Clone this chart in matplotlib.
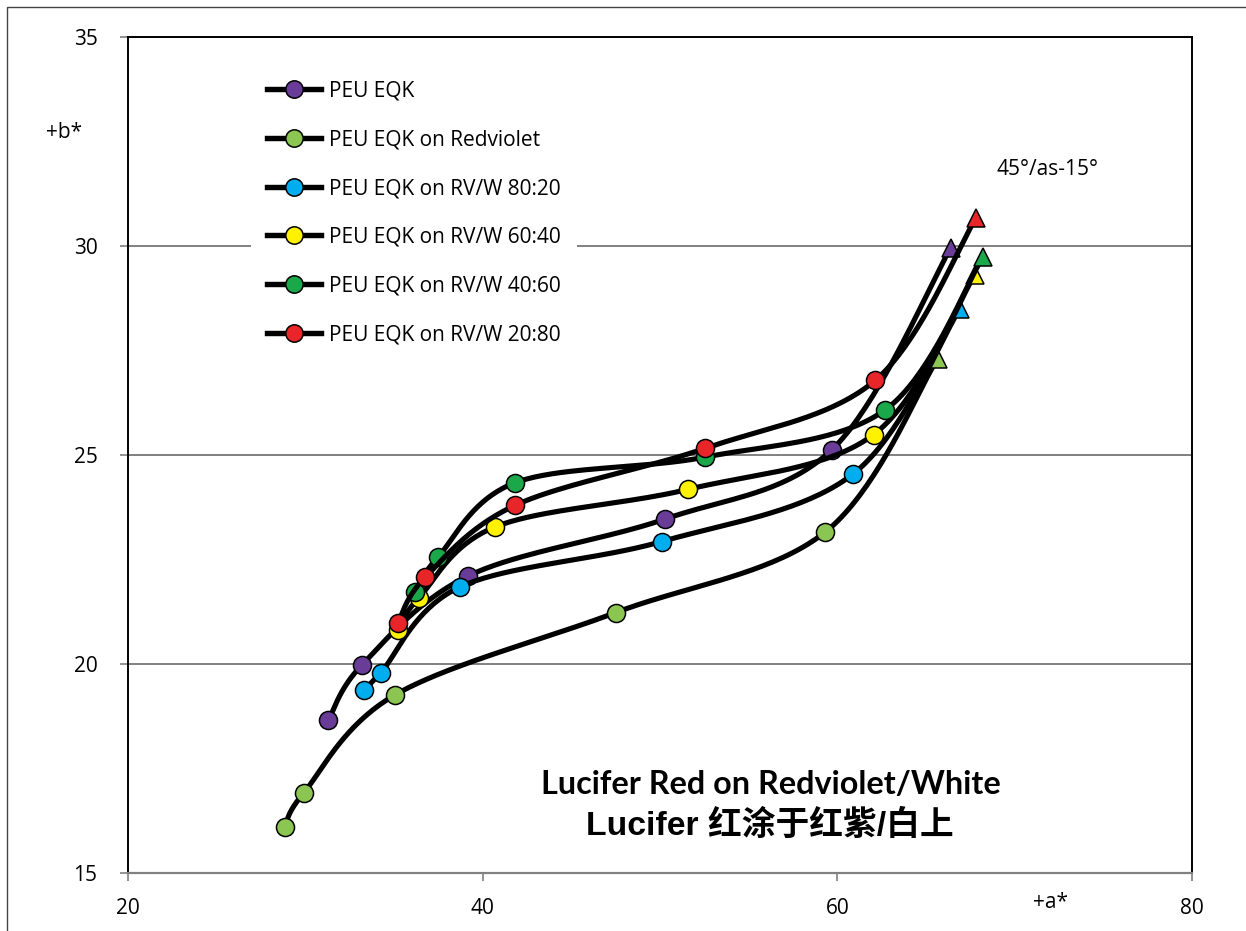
import numpy as np
import matplotlib
matplotlib.use("Agg")
import matplotlib.pyplot as plt
from matplotlib.lines import Line2D
from matplotlib.patches import Rectangle

# ---- data: CIELAB a*/b* measurements per substrate ----
series_names = [
    "PEU EQK",
    "PEU EQK on Redviolet",
    "PEU EQK on RV/W 80:20",
    "PEU EQK on RV/W 60:40",
    "PEU EQK on RV/W 40:60",
    "PEU EQK on RV/W 20:80",
]
series_colors = ["#683c97", "#8cc652", "#00aeef", "#fff200", "#1ba84a", "#e8262a"]

a_peu = [31.3, 33.2, 39.2, 50.3, 59.7, 66.4]
b_peu = [18.66, 19.98, 22.11, 23.47, 25.13, 29.96]

a_rv = [28.85, 29.9, 35.05, 47.5, 59.3, 65.65]
b_rv = [16.11, 16.91, 19.26, 21.23, 23.15, 27.30]

a_8020 = [33.3, 34.25, 38.7, 50.1, 60.9, 66.9]
b_8020 = [19.38, 19.79, 21.84, 22.93, 24.55, 28.49]

a_6040 = [35.2, 36.4, 40.7, 51.6, 62.05, 67.75]
b_6040 = [20.81, 21.58, 23.28, 24.18, 25.49, 29.31]

a_4060 = [36.2, 37.5, 41.85, 52.55, 62.7, 68.2]
b_4060 = [21.72, 22.57, 24.34, 24.95, 26.08, 29.73]

a_2080 = [35.2, 36.75, 41.85, 52.55, 62.15, 67.8]
b_2080 = [20.97, 22.07, 23.80, 25.16, 26.79, 30.66]

a_values = [a_peu, a_rv, a_8020, a_6040, a_4060, a_2080]
b_values = [b_peu, b_rv, b_8020, b_6040, b_4060, b_2080]

x_ticks = [20, 40, 60, 80]
y_ticks = [15, 20, 25, 30, 35]


def smooth_curve(xs, ys, steps=40):
    """Piecewise cubic Bezier through the points (spreadsheet-style smoothing)."""
    p = np.column_stack([xs, ys]).astype(float)
    n = len(p)
    out = []
    t = np.linspace(0, 1, steps)[:, None]
    for i in range(n - 1):
        p0 = p[i - 1] if i > 0 else p[i]
        p1, p2 = p[i], p[i + 1]
        p3 = p[i + 2] if i + 2 < n else p[i + 1]
        c1 = p1 + (p2 - p0) / 6.0
        c2 = p2 - (p3 - p1) / 6.0
        seg = ((1 - t) ** 3) * p1 + 3 * ((1 - t) ** 2) * t * c1 + 3 * (1 - t) * t ** 2 * c2 + t ** 3 * p2
        out.append(seg if i == 0 else seg[1:])
    seg = np.vstack(out)
    return seg[:, 0], seg[:, 1]


W, H = 1246, 931
fig = plt.figure(figsize=(W / 100, H / 100), dpi=100)
ax = fig.add_axes([128 / W, 1 - 873 / H, (1192 - 128) / W, (873 - 37) / H])

base_font = "Open Sans"
grey = "#808080"

line_w = 3.7
mk = 13.0
mew = 1.1

for k, (xs, ys, col) in enumerate(zip(a_values, b_values, series_colors)):
    z = 3 + k
    cx, cy = smooth_curve(xs, ys)
    ax.plot(cx, cy, color="black", lw=line_w, solid_capstyle="round", zorder=z)
    ax.plot(xs[:-1], ys[:-1], ls="none", marker="o", ms=mk, mfc=col, mec="black",
            mew=mew, zorder=z + 0.5)
    ax.plot(xs[-1:], ys[-1:], ls="none", marker="^", ms=mk + 0.5, mfc=col, mec="black",
            mew=mew, zorder=z + 0.5)

ax.set_xlim(20, 80)
ax.set_ylim(15, 35)
ax.set_xticks(x_ticks)
ax.set_yticks(y_ticks)
ax.set_xticklabels([str(v) for v in x_ticks])
ax.set_yticklabels([str(v) for v in y_ticks])
ax.yaxis.grid(True, color=grey, lw=1.4, zorder=0)
ax.set_axisbelow(True)
ax.tick_params(axis="both", direction="out", length=6, width=1.2, color=grey,
               labelsize=15, pad=12)
ax.tick_params(axis="y", pad=16)
for lab in ax.get_xticklabels() + ax.get_yticklabels():
    lab.set_fontfamily(base_font)

for side in ("left", "top", "right"):
    ax.spines[side].set_color("black")
    ax.spines[side].set_linewidth(1.4)
ax.spines["bottom"].set_color(grey)
ax.spines["bottom"].set_linewidth(1.6)

# axis captions and angle note
fig.text(64 / W, 1 - 133 / H, "+b*", fontsize=15, family=base_font,
         ha="center", va="center")
fig.text(1050 / W, 1 - 903 / H, "+a*", fontsize=15, family=base_font,
         ha="center", va="center")
fig.text(996 / W, 1 - 169 / H, "45°/as-15°", fontsize=15, family=base_font,
         ha="left", va="center")

# title block inside the plot
fig.text(771 / W, 1 - 784 / H, "Lucifer Red on Redviolet/White", fontsize=23.3,
         family="Lato", weight="bold", ha="center", va="center")
fig.text(770 / W, 1 - 826 / H, "Lucifer 红涂于红紫/白上", fontsize=24.3,
         family=["Liberation Sans", "Noto Sans CJK SC"], weight="bold",
         ha="center", va="center")

# legend
handles = [Line2D([0], [0], color="black", lw=3.9, marker="o", ms=12.5, mfc=c,
                  mec="black", mew=mew) for c in series_colors]
leg = ax.legend(handles, series_names, loc="upper left",
                bbox_to_anchor=(251 / W, 1 - 65 / H), bbox_transform=fig.transFigure,
                prop={"family": base_font, "size": 15}, frameon=True,
                handlelength=2.6, handletextpad=0.4, labelspacing=1.33,
                borderpad=0.75, borderaxespad=0)
leg.get_frame().set_facecolor("white")
leg.get_frame().set_edgecolor("none")
leg.get_frame().set_alpha(1)
leg.set_zorder(20)

# outer frame of the graphic
fig.add_artist(Rectangle((7 / W, -0.05), 1.2, (931 - 7) / H + 0.05, transform=fig.transFigure,
                         fill=False, ec="#444444", lw=1.0))

fig.savefig("out.png", dpi=100)
